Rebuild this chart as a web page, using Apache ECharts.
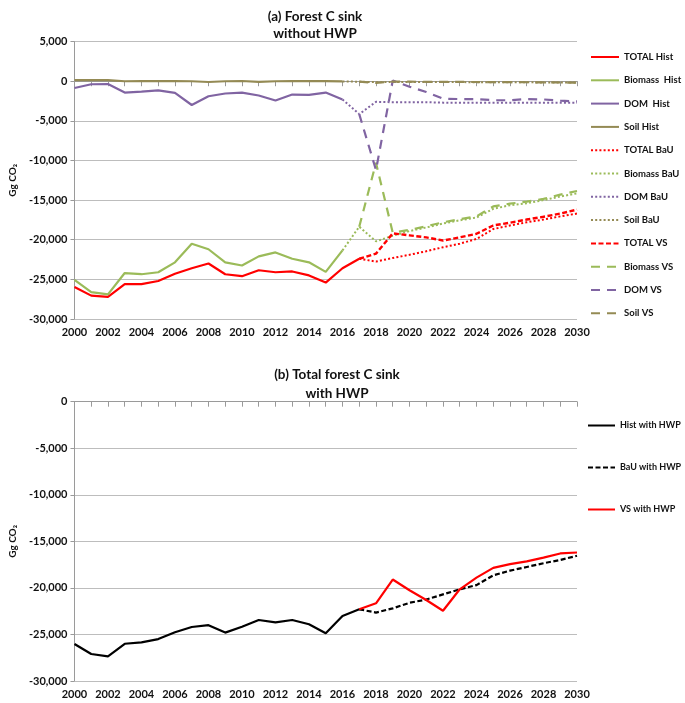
<!DOCTYPE html>
<html><head><meta charset="utf-8">
<script src="https://cdn.jsdelivr.net/npm/echarts@6/dist/echarts.min.js"></script>
<style>html,body{margin:0;padding:0;background:#fff}#c{width:685px;height:703px}</style>
</head><body><div id="c"></div>
<script>
const years = ['2000','2001','2002','2003','2004','2005','2006','2007','2008','2009','2010','2011','2012','2013','2014','2015','2016','2017','2018','2019','2020','2021','2022','2023','2024','2025','2026','2027','2028','2029','2030'];
const yTicksTop = [5000,0,-5000,-10000,-15000,-20000,-25000,-30000];
const yTicksBottom = [0,-5000,-10000,-15000,-20000,-25000,-30000];
const _ = null;
// Panel (a)
const totalHist   = [-25950,-27050,-27200,-25600,-25600,-25200,-24300,-23600,-23000,-24350,-24600,-23850,-24100,-24000,-24500,-25400,-23600,-22400,_,_,_,_,_,_,_,_,_,_,_,_,_];
const biomassHist = [-25050,-26600,-26900,-24200,-24350,-24100,-22850,-20500,-21200,-22850,-23250,-22100,-21600,-22400,-22850,-24050,-21350,_,_,_,_,_,_,_,_,_,_,_,_,_,_];
const domHist     = [-850,-380,-350,-1430,-1300,-1150,-1470,-3000,-1900,-1550,-1430,-1800,-2430,-1680,-1720,-1430,-2300,_,_,_,_,_,_,_,_,_,_,_,_,_,_];
const soilHist    = [150,150,130,0,20,10,20,0,-100,0,30,-80,0,20,30,20,-20,_,_,_,_,_,_,_,_,_,_,_,_,_,_];
const totalBaU    = [_,_,_,_,_,_,_,_,_,_,_,_,_,_,_,_,_,-22400,-22750,-22300,-21900,-21450,-20950,-20500,-19900,-18650,-18200,-17800,-17450,-17050,-16700];
const biomassBaU  = [_,_,_,_,_,_,_,_,_,_,_,_,_,_,_,_,-21350,-18350,-20200,-19500,-18900,-18450,-17950,-17550,-17200,-16100,-15650,-15400,-15000,-14550,-14150];
const domBaU      = [_,_,_,_,_,_,_,_,_,_,_,_,_,_,_,_,-2300,-4150,-2600,-2650,-2650,-2650,-2700,-2700,-2700,-2700,-2700,-2700,-2700,-2700,-2700];
const soilBaU     = [_,_,_,_,_,_,_,_,_,_,_,_,_,_,_,_,-20,-60,-120,-100,-100,-100,-110,-110,-120,-120,-130,-140,-150,-160,-180];
const totalVS     = [_,_,_,_,_,_,_,_,_,_,_,_,_,_,_,_,_,-22400,-21750,-19200,-19450,-19700,-20100,-19700,-19250,-18200,-17850,-17450,-17100,-16700,-16200];
const biomassVS   = [_,_,_,_,_,_,_,_,_,_,_,_,_,_,_,_,_,-18350,-10300,-19100,-18750,-18300,-17800,-17400,-17050,-15800,-15450,-15200,-14850,-14300,-13850];
const domVS       = [_,_,_,_,_,_,_,_,_,_,_,_,_,_,_,_,_,-4150,-11200,80,-700,-1350,-2200,-2250,-2250,-2400,-2400,-2250,-2300,-2450,-2550];
const soilVS      = [_,_,_,_,_,_,_,_,_,_,_,_,_,_,_,_,_,-60,-200,-50,-60,-70,-80,-90,-100,-110,-120,-130,-150,-160,-180];
// Panel (b)
const histHWP = [-26030,-27100,-27350,-26000,-25850,-25500,-24770,-24200,-24000,-24800,-24170,-23450,-23700,-23450,-23900,-24870,-23020,-22300,_,_,_,_,_,_,_,_,_,_,_,_,_];
const bauHWP  = [_,_,_,_,_,_,_,_,_,_,_,_,_,_,_,_,_,-22300,-22650,-22200,-21600,-21250,-20700,-20150,-19700,-18650,-18150,-17750,-17350,-17000,-16550];
const vsHWP   = [_,_,_,_,_,_,_,_,_,_,_,_,_,_,_,_,_,-22300,-21650,-19100,-20250,-21300,-22450,-20150,-18900,-17850,-17450,-17150,-16750,-16300,-16200];

const RED='#ff0000', GREEN='#9bbb59', PURPLE='#8064a2', OLIVE='#948a54';
const FONT='Lato';
const fmt = v => { const s = Math.abs(v).toString().replace(/\B(?=(\d{3})+(?!\d))/g, ','); return (v<0?'-':'')+s; };

function mk(name, data, color, type, width, gi) {
  return { name, type:'line', data, xAxisIndex:gi, yAxisIndex:gi, symbol:'none', showSymbol:false, connectNulls:false,
    lineStyle:{color, width:width||2, type:type||'solid', cap:'butt'}, itemStyle:{color, opacity:0}, silent:true, animation:false };
}
const DOT=[2,2.2], SHORT=[5,2.5], LONG=[9,7];

function xAx(gi){ return { type:'category', gridIndex:gi, data:years, boundaryGap:false,
  axisLine:{lineStyle:{color:'#9a9a9a',width:1}},
  axisTick:{show:true, interval:0, length:5, lineStyle:{color:'#9a9a9a'}},
  axisLabel:{interval:1, color:'#111', fontFamily:FONT, fontWeight:'bold', fontSize:11, margin:8},
  splitLine:{show:false} }; }
function yAx(gi,min,max,ticks){ return { type:'value', gridIndex:gi, min, max, interval:5000,
  name:'Gg CO\u2082', nameLocation:'middle', nameGap:50, nameRotate:90,
  nameTextStyle:{color:'#111', fontFamily:FONT, fontWeight:'bold', fontSize:10},
  axisLine:{show:true, lineStyle:{color:'#9a9a9a'}},
  axisTick:{show:true, length:4, lineStyle:{color:'#9a9a9a'}},
  axisLabel:{color:'#111', fontFamily:FONT, fontWeight:'bold', fontSize:11, margin:7,
    formatter: v => ticks.includes(v) ? fmt(v) : ''},
  splitLine:{lineStyle:{color:'#bdbdbd', width:1}} }; }

const legText = {fontFamily:FONT, fontWeight:'bold', fontSize:9.5, color:'#111'};
const legText2 = {fontFamily:FONT, fontWeight:'bold', fontSize:9, color:'#111'};
const option = {
  backgroundColor:'#fff',
  animation:false,
  title:[
    {text:'(a) Forest C sink\nwithout HWP', left:310, top:3, textAlign:'center',
      textStyle:{fontFamily:FONT, fontWeight:'bold', fontSize:13.5, color:'#111', lineHeight:17}},
    {text:'(b) Total forest C sink\nwith HWP', left:332, top:360, textAlign:'center',
      textStyle:{fontFamily:FONT, fontWeight:'bold', fontSize:13.5, color:'#111', lineHeight:19}}
  ],
  grid:[
    {left:65, top:41.6, width:512, height:277.4, containLabel:false},
    {left:65, top:401.7, width:512, height:279.3, containLabel:false}
  ],
  xAxis:[xAx(0), xAx(1)],
  yAxis:[yAx(0,-30000,5000,yTicksTop), yAx(1,-30000,0,yTicksBottom)],
  legend:[
    {orient:'vertical', left:585, top:47, itemWidth:28, itemHeight:10, itemGap:13.3,
      itemStyle:{opacity:0}, textStyle:legText,
      data:['TOTAL Hist','Biomass  Hist','DOM  Hist','Soil Hist','TOTAL BaU','Biomass BaU','DOM BaU','Soil BaU','TOTAL VS','Biomass VS','DOM VS','Soil VS']},
    {orient:'vertical', left:582, top:416, itemWidth:27, itemHeight:10, itemGap:33,
      itemStyle:{opacity:0}, textStyle:legText2,
      data:['Hist with HWP','BaU with HWP','VS with HWP']}
  ],
  series:[
    mk('TOTAL Hist', totalHist, RED, 'solid', 2.2, 0),
    mk('Biomass  Hist', biomassHist, GREEN, 'solid', 2.2, 0),
    mk('DOM  Hist', domHist, PURPLE, 'solid', 2.2, 0),
    mk('Soil Hist', soilHist, OLIVE, 'solid', 2.2, 0),
    mk('TOTAL BaU', totalBaU, RED, DOT, 2, 0),
    mk('Biomass BaU', biomassBaU, GREEN, DOT, 2, 0),
    mk('DOM BaU', domBaU, PURPLE, DOT, 2, 0),
    mk('Soil BaU', soilBaU, OLIVE, DOT, 2, 0),
    mk('TOTAL VS', totalVS, RED, SHORT, 2.4, 0),
    mk('Biomass VS', biomassVS, GREEN, LONG, 2.2, 0),
    mk('DOM VS', domVS, PURPLE, LONG, 2.2, 0),
    mk('Soil VS', soilVS, OLIVE, LONG, 2.2, 0),
    mk('Hist with HWP', histHWP, '#000000', 'solid', 2.2, 1),
    mk('BaU with HWP', bauHWP, '#000000', SHORT, 2.2, 1),
    mk('VS with HWP', vsHWP, RED, 'solid', 2.2, 1)
  ]
};
const chart = echarts.init(document.getElementById('c'), null, {renderer:'canvas'});
chart.setOption(option);
</script></body></html>
